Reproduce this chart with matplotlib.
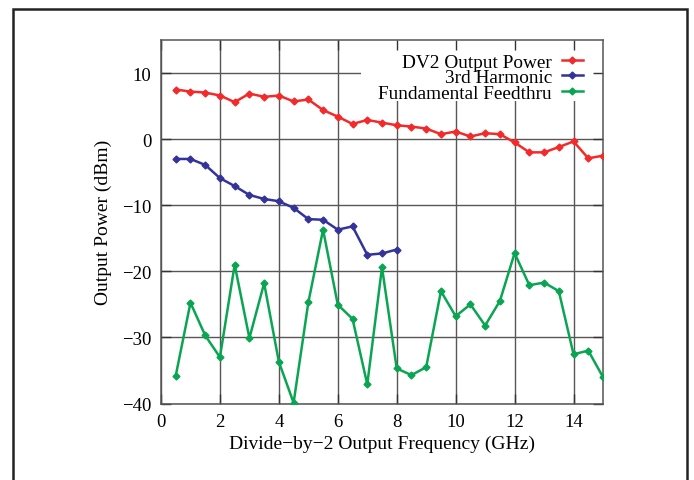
import matplotlib
matplotlib.use("Agg")
import matplotlib.pyplot as plt
from matplotlib.patches import Rectangle

plt.rcParams['font.family'] = ['Liberation Serif', 'DejaVu Serif']
plt.rcParams['mathtext.fontset'] = 'stix'

# ---- data ----
freq_dv2 = [0.5, 1.0, 1.5, 2.0, 2.5, 3.0, 3.5, 4.0, 4.5, 5.0, 5.5, 6.0, 6.5, 7.0, 7.5,
            8.0, 8.5, 9.0, 9.5, 10.0, 10.5, 11.0, 11.5, 12.0, 12.5, 13.0, 13.5, 14.0, 14.5, 15.0]
dv2_power = [7.5, 7.2, 7.05, 6.6, 5.6, 6.9, 6.4, 6.6, 5.7, 6.0, 4.4, 3.4, 2.3, 2.9, 2.5,
             2.1, 1.9, 1.6, 0.75, 1.15, 0.4, 0.9, 0.75, -0.5, -2.0, -2.0, -1.2, -0.35, -2.9, -2.5]

freq_h3 = [0.5, 1.0, 1.5, 2.0, 2.5, 3.0, 3.5, 4.0, 4.5, 5.0, 5.5, 6.0, 6.5, 7.0, 7.5, 8.0]
h3_power = [-3.0, -3.0, -3.9, -5.9, -7.1, -8.45, -9.05, -9.4, -10.4, -12.1, -12.2,
            -13.7, -13.2, -17.5, -17.3, -16.7]

freq_ft = freq_dv2
ft_power = [-35.8, -24.75, -29.7, -33.0, -19.0, -30.1, -21.8, -33.7, -39.9, -24.7, -13.7,
            -25.05, -27.2, -37.1, -19.4, -34.7, -35.7, -34.5, -23.0, -26.8, -25.0, -28.2,
            -24.5, -17.25, -22.1, -21.7, -23.0, -32.55, -32.0, -36.0]

series_names = ["DV2 Output Power", "3rd Harmonic", "Fundamental Feedthru"]
series_colors = ["#f42a2a", "#33339a", "#0aa553"]

xticks = [0, 2, 4, 6, 8, 10, 12, 14]
yticks = [-40, -30, -20, -10, 0, 10]

W, H = 694, 481
fig = plt.figure(figsize=(W / 100, H / 100), dpi=100)

# outer frame
fig.patches.append(Rectangle((13 / W, -0.1), (687 - 13) / W, 1.1 - 10 / H + 0.0,
                             transform=fig.transFigure, fill=False,
                             edgecolor="#222222", linewidth=1.8, zorder=0))

ax = fig.add_axes([161 / W, 1 - 404.5 / H, (603 - 161) / W, (404.5 - 41) / H])
ax.set_xlim(0, 15)
ax.set_ylim(-40, 15)

grid_color = "#5a5656"
for xv in xticks:
    ax.axvline(xv, color=grid_color, lw=1.0, zorder=1)
for yv in yticks:
    ax.axhline(yv, color=grid_color, lw=1.0, zorder=1)

# white area behind the legend hides the grid
ax.add_patch(Rectangle((0.452, 0.832), 0.6, 0.2, transform=ax.transAxes,
                       facecolor="white", edgecolor="none", zorder=1.5))

ax.plot(freq_dv2, dv2_power, color=series_colors[0], lw=1.8, marker="D", ms=3.5,
        label=series_names[0], zorder=3)
ax.plot(freq_h3, h3_power, color=series_colors[1], lw=1.8, marker="D", ms=3.5,
        label=series_names[1], zorder=3)
ax.plot(freq_ft, ft_power, color=series_colors[2], lw=1.8, marker="D", ms=3.5,
        label=series_names[2], zorder=3)

ax.set_xticks(xticks)
ax.set_yticks(yticks)
ax.tick_params(direction="in", length=7.5, width=1.0, color="#333333",
               top=True, right=True, labelsize=13.5, pad=7)
for s in ax.spines.values():
    s.set_color("#555555")
    s.set_linewidth(1.1)

ax.set_xlabel("Divide−by−2 Output Frequency (GHz)", fontsize=14, labelpad=3)
ax.set_ylabel("Output Power (dBm)", fontsize=14, labelpad=7)

leg = ax.legend(loc="upper right", bbox_to_anchor=(583 / W, 1 - 54 / H),
                bbox_transform=fig.transFigure, frameon=False, markerfirst=False,
                fontsize=13.9, handlelength=1.1, handletextpad=0.5,
                labelspacing=-0.1, borderpad=0, borderaxespad=0)
leg.set_zorder(5)

fig.savefig("out.png", dpi=100)
